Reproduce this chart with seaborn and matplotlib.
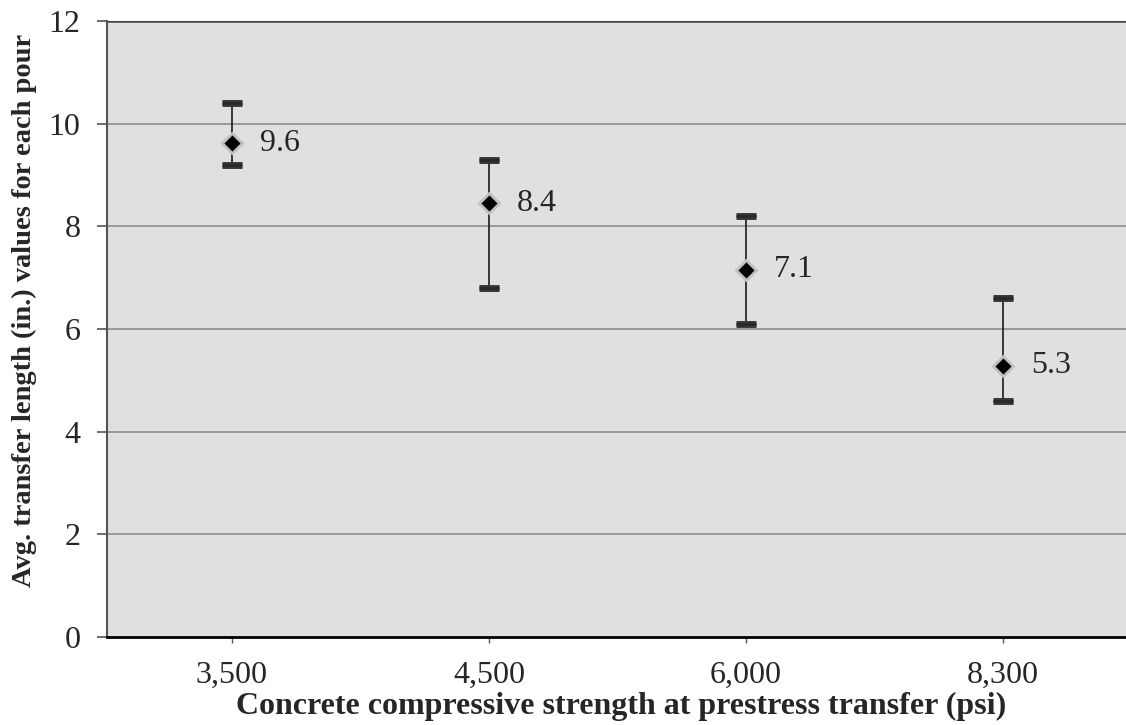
import matplotlib
matplotlib.use("Agg")
import matplotlib.pyplot as plt
import matplotlib.patheffects as pe
import seaborn as sns
import pandas as pd

categories = ["3,500", "4,500", "6,000", "8,300"]
values = [9.6, 8.4, 7.1, 5.3]
upper = [10.4, 9.3, 8.2, 6.6]
lower = [9.2, 6.8, 6.1, 4.6]
point_values = [9.62, 8.45, 7.15, 5.28]
labels = ["9.6", "8.4", "7.1", "5.3"]
y_ticks = [0, 2, 4, 6, 8, 10, 12]

sns.set_theme(style="white")
plt.rcParams['font.family'] = ['Liberation Serif', 'DejaVu Serif']

df = pd.DataFrame({"strength": categories, "length": point_values})

fig = plt.figure(figsize=(11.26, 7.25), dpi=100)
ax = fig.add_axes([107/1126, 88/725, (1135-107)/1126, (637-21)/725])
ax.set_facecolor("#e0e0e0")

XMIN, XMAX = -0.486, 3.514

ax.set_ylim(0, 12)
ax.set_xlim(XMIN, XMAX)
ax.set_yticks(y_ticks)
for t in y_ticks[1:-1]:
    ax.axhline(t, color="#8c8c8c", lw=1.2, zorder=1)

xs = list(range(len(categories)))
yerr = [[p - l for p, l in zip(point_values, lower)], [u - p for p, u in zip(point_values, upper)]]
eb = ax.errorbar(xs, point_values, yerr=yerr, fmt="none", ecolor="#2a2a2a",
                 elinewidth=1.3, capsize=7.0, capthick=2.5, zorder=3)
for cap in eb[1]:
    cap.set_color("#8a8a8a")
    cap.set_path_effects([pe.Stroke(linewidth=5, foreground="#3a3a3a"), pe.Normal()])

sns.pointplot(data=df, x="strength", y="length", order=categories, errorbar=None,
              linestyle="none", markers="D", color="black", markersize=10,
              markeredgecolor="#c0c0c0", markeredgewidth=2.0, ax=ax, zorder=4)

for x, y, lab in zip(xs, point_values, labels):
    ax.text(x + 0.11, y, lab, fontsize=23, va="center", ha="left", zorder=5)

ax.set_xlim(XMIN, XMAX)
ax.set_ylim(0, 12)

for s in ["top", "right"]:
    ax.spines[s].set_visible(False)
ax.spines["left"].set_color("#555555")
ax.spines["left"].set_linewidth(1.5)
ax.spines["bottom"].set_color("#000000")
ax.spines["bottom"].set_linewidth(2)
ax.axhline(12, color="#444444", lw=1.8, zorder=2)

ax.tick_params(axis="y", which="major", left=True, direction="out", length=7,
               width=1.2, color="#555555", labelsize=23, pad=12)
ax.tick_params(axis="x", which="major", bottom=True, direction="out", length=4,
               width=1, color="#555555", labelsize=23, pad=13)
ax.set_yticklabels([str(t) for t in y_ticks])

ax.set_xlabel("Concrete compressive strength at prestress transfer (psi)",
              fontsize=23, fontweight="bold", labelpad=2)
ax.set_ylabel("Avg. transfer length (in.) values for each pour",
              fontsize=20.5, fontweight="bold", va="center")
ax.yaxis.set_label_coords(-0.08, 0.53)

fig.savefig("out.png", dpi=100)
